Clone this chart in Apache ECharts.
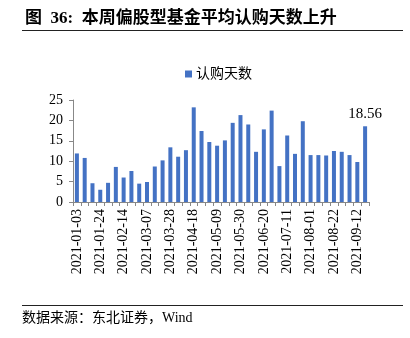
<!DOCTYPE html>
<html>
<head>
<meta charset="utf-8">
<script src="https://cdn.jsdelivr.net/npm/echarts@6/dist/echarts.min.js"></script>
<style>
html,body{margin:0;padding:0;background:#fff;}
#chart{width:410px;height:338px;}
</style>
</head>
<body>
<div id="chart"></div>
<script>
var categories = ['2021-01-03','2021-01-10','2021-01-17','2021-01-24','2021-01-31','2021-02-07','2021-02-14','2021-02-21','2021-02-28','2021-03-07','2021-03-14','2021-03-21','2021-03-28','2021-04-04','2021-04-11','2021-04-18','2021-04-25','2021-05-02','2021-05-09','2021-05-16','2021-05-23','2021-05-30','2021-06-06','2021-06-13','2021-06-20','2021-06-27','2021-07-04','2021-07-11','2021-07-18','2021-07-25','2021-08-01','2021-08-08','2021-08-15','2021-08-22','2021-08-29','2021-09-05','2021-09-12','2021-09-19'];
var subscriptionDays = [11.9,10.8,4.6,3.0,4.7,8.6,6.0,7.6,4.5,4.9,8.7,10.2,13.4,11.1,12.7,23.2,17.4,14.7,13.8,15.1,19.4,21.3,19.0,12.3,17.8,22.4,8.8,16.3,11.8,19.8,11.5,11.5,11.4,12.5,12.3,11.5,9.8,18.56];
var yTicks = [0,5,10,15,20,25];
var seriesName = '认购天数';

var serif = "'Liberation Serif','Noto Sans CJK SC',serif";
var chart = echarts.init(document.getElementById('chart'));
var lastIdx = subscriptionDays.length - 1;
chart.setOption({
  animation: false,
  backgroundColor: '#fff',
  title: {
    text: '图  36:  本周偏股型基金平均认购天数上升',
    left: 20, top: 5,
    textStyle: {fontFamily: serif, fontSize: 17, fontWeight: 'bold', color: '#000'}
  },
  legend: {
    data: [seriesName],
    left: 180, top: 62,
    itemWidth: 7, itemHeight: 7, itemGap: 4,
    icon: 'rect',
    textStyle: {fontFamily: serif, fontSize: 14, color: '#000', padding: [0,0,0,-1]}
  },
  grid: {left: 73, right: 41, top: 100, bottom: 136, containLabel: false},
  xAxis: {
    type: 'category',
    data: categories,
    boundaryGap: true,
    axisLine: {lineStyle: {color: '#888', width: 1}},
    axisTick: {show: true, interval: 0, length: 4, lineStyle: {color: '#888'}},
    axisLabel: {interval: 2, rotate: 90, fontFamily: serif, fontSize: 14, color: '#000', margin: 7}
  },
  yAxis: {
    type: 'value',
    min: yTicks[0], max: yTicks[yTicks.length-1], interval: 5,
    axisLine: {show: true, lineStyle: {color: '#888', width: 1}},
    axisTick: {show: true, length: 4, lineStyle: {color: '#888'}},
    splitLine: {show: false},
    axisLabel: {fontFamily: serif, fontSize: 14, color: '#000', margin: 10}
  },
  series: [{
    name: seriesName,
    type: 'bar',
    barWidth: 4,
    itemStyle: {color: '#4472C4'},
    data: subscriptionDays.map(function(v, i){
      return i === lastIdx ? {value: v, label: {show: true, position: 'top', distance: 5, formatter: String(v), fontFamily: serif, fontSize: 15, color: '#000'}} : v;
    })
  }],
  graphic: [
    {type: 'line', shape: {x1: 22, y1: 30.5, x2: 403, y2: 30.5}, style: {stroke: '#222', lineWidth: 1}},
    {type: 'line', shape: {x1: 22, y1: 305.5, x2: 403, y2: 305.5}, style: {stroke: '#222', lineWidth: 1}},
    {type: 'text', left: 22, top: 311, style: {text: '数据来源：东北证券，Wind', font: "14px 'Liberation Serif','Noto Sans CJK SC',serif", fill: '#000'}}
  ]
});
</script>
</body>
</html>
